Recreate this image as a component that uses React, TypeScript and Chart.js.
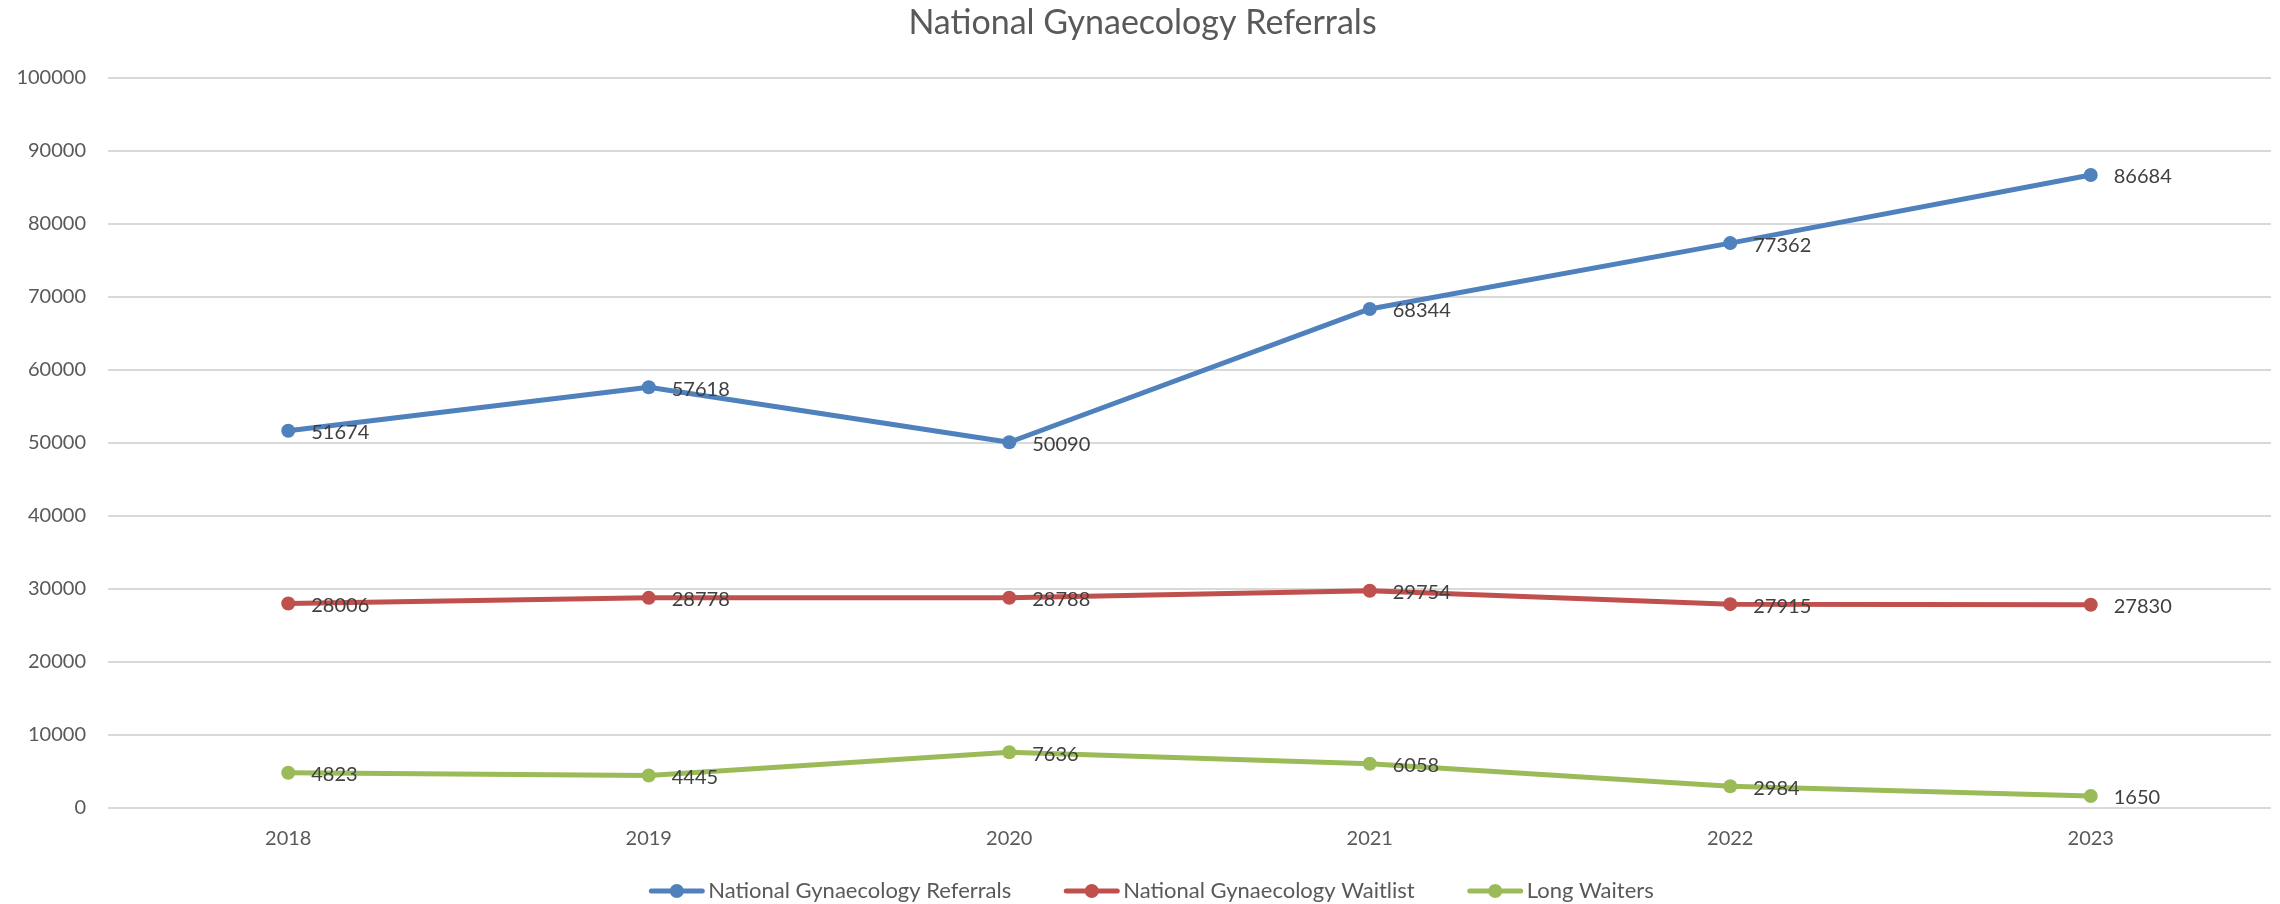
import React, { useEffect, useRef } from "react";
import { Chart, registerables } from "chart.js";

Chart.register(...registerables);

const years = ["2018", "2019", "2020", "2021", "2022", "2023"];
const referrals = [51674, 57618, 50090, 68344, 77362, 86684];
const waitlist = [28006, 28778, 28788, 29754, 27915, 27830];
const longWaiters = [4823, 4445, 7636, 6058, 2984, 1650];
const seriesNames = [
  "National Gynaecology Referrals",
  "National Gynaecology Waitlist",
  "Long Waiters",
];
const seriesColors = ["#4F81BD", "#C0504D", "#9BBB59"];
const yTickMax = 100000;
const yTickStep = 10000;

const FONT = "Lato";
const TICK_SIZE = 20;
const LEGEND_SIZE = 22;
const TITLE_SIZE = 34;

const dataLabelPlugin = {
  id: "dataLabels",
  afterDatasetsDraw(chart: any) {
    const ctx = chart.ctx;
    ctx.save();
    ctx.font = `${TICK_SIZE}px ${FONT}`;
    ctx.fillStyle = "#404040";
    ctx.textAlign = "left";
    ctx.textBaseline = "middle";
    chart.data.datasets.forEach((ds: any, i: number) => {
      const meta = chart.getDatasetMeta(i);
      meta.data.forEach((pt: any, j: number) => {
        ctx.fillText(String(ds.data[j]), pt.x + 23, pt.y + 2);
      });
    });
    ctx.restore();
  },
};

const legendPlugin = {
  id: "customLegend",
  afterDraw(chart: any) {
    const ctx = chart.ctx;
    ctx.save();
    ctx.font = `${LEGEND_SIZE}px ${FONT}`;
    const symW = 57;
    const symGap = 3;
    const itemGap = 52;
    const widths = chart.data.datasets.map((ds: any) => ctx.measureText(ds.label).width);
    const total =
      widths.reduce((a: number, b: number) => a + b, 0) +
      widths.length * (symW + symGap) +
      (widths.length - 1) * itemGap;
    let x = 1151 - total / 2;
    const y = 891;
    chart.data.datasets.forEach((ds: any, i: number) => {
      const c = ds.borderColor;
      ctx.strokeStyle = c;
      ctx.lineWidth = 5;
      ctx.lineCap = "round";
      ctx.beginPath();
      ctx.moveTo(x + 3, y);
      ctx.lineTo(x + symW - 3, y);
      ctx.stroke();
      ctx.fillStyle = c;
      ctx.beginPath();
      ctx.arc(x + symW / 2, y, 7, 0, Math.PI * 2);
      ctx.fill();
      ctx.fillStyle = "#595959";
      ctx.textAlign = "left";
      ctx.textBaseline = "middle";
      ctx.fillText(ds.label, x + symW + symGap, y);
      x += symW + symGap + widths[i] + itemGap;
    });
    ctx.restore();
  },
};

export default function App() {
  const ref = useRef<HTMLCanvasElement>(null);

  useEffect(() => {
    document.body.style.margin = "0";
    const seriesData = [referrals, waitlist, longWaiters];
    const chart = new Chart(ref.current!, {
      type: "line",
      data: {
        labels: years,
        datasets: seriesData.map((d, i) => ({
          label: seriesNames[i],
          data: d,
          borderColor: seriesColors[i],
          backgroundColor: seriesColors[i],
          pointBackgroundColor: seriesColors[i],
          pointBorderWidth: 0,
          pointRadius: 7,
          borderWidth: 5,
          borderJoinStyle: "round",
          borderCapStyle: "round",
          tension: 0,
        })),
      },
      options: {
        responsive: false,
        animation: false,
        layout: { padding: { left: 14, right: 9, top: 0, bottom: 53 } },
        plugins: {
          title: {
            display: true,
            text: "National Gynaecology Referrals",
            color: "#595959",
            font: { family: FONT, size: TITLE_SIZE, weight: "normal" },
            padding: { top: 3, bottom: 34 },
          },
          legend: { display: false },
          tooltip: { enabled: false },
        },
        scales: {
          x: {
            offset: true,
            grid: { display: false, drawTicks: false },
            border: { display: false },
            ticks: {
              color: "#595959",
              font: { family: FONT, size: TICK_SIZE },
              padding: 19,
            },
            afterFit: (s: any) => {
              s.height = 43;
            },
          },
          y: {
            min: 0,
            max: yTickMax,
            grid: { color: "#D9D9D9", lineWidth: 2, drawTicks: false },
            border: { display: false },
            ticks: {
              stepSize: yTickStep,
              color: "#595959",
              font: { family: FONT, size: TICK_SIZE },
              padding: 22,
              callback: (v: any) => String(v),
            },
            afterFit: (s: any) => {
              s.width = 94;
            },
          },
        },
      },
      plugins: [dataLabelPlugin, legendPlugin],
    });
    return () => chart.destroy();
  }, []);

  return (
    <div style={{ position: "absolute", left: 0, top: 0, width: 2280, height: 904, background: "#fff" }}>
      <canvas ref={ref} width={2280} height={904} />
    </div>
  );
}
